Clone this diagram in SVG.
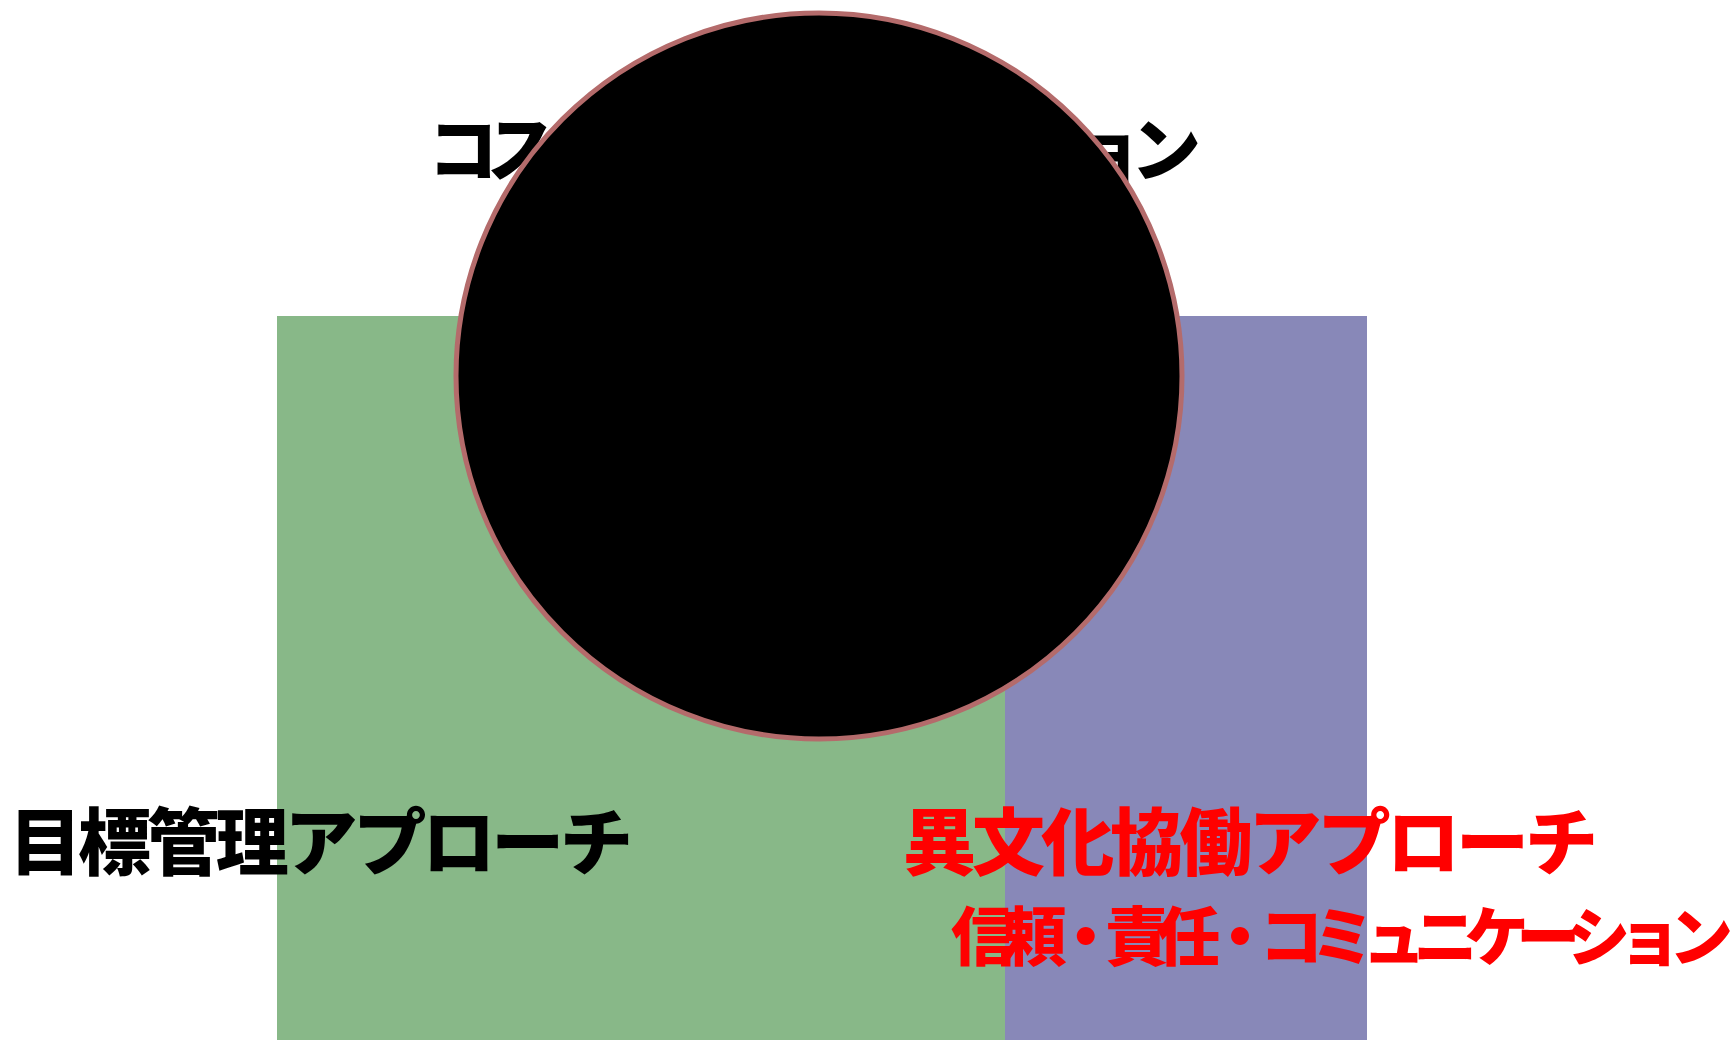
<svg xmlns="http://www.w3.org/2000/svg" width="1735" height="1040" viewBox="0 0 1735 1040">
  <style>
    .jp { font-family: "Noto Sans CJK JP", "Noto Sans CJK SC", sans-serif; font-weight: 900; }
    .blk { fill: #000000; }
    .red { fill: #FF0000; }
  </style>
  <rect width="1735" height="1040" fill="#FFFFFF"/>
  <g id="green-block">
    <rect x="277" y="316" width="728" height="724" fill="#88B888"/>
  </g>
  <g id="purple-block">
    <rect x="1005" y="316" width="362" height="724" fill="#8888B8"/>
  </g>
  <g id="top-label">
    <text class="jp blk" x="428" y="176" font-size="70" textLength="773">コスト・コミュニケーション</text>
  </g>
  <g id="center-circle">
    <circle cx="819" cy="376" r="363" fill="#000000" stroke="#B46B6B" stroke-width="5"/>
  </g>
  <g id="left-label">
    <text class="jp blk" x="9" y="869" font-size="73" textLength="624">目標管理アプローチ</text>
  </g>
  <g id="right-label">
    <text class="jp red" x="903" y="869" font-size="73" textLength="695">異文化協働アプローチ</text>
    <text class="jp red" x="951" y="960" font-size="64" textLength="782">信頼・責任・コミュニケーション</text>
  </g>
</svg>
